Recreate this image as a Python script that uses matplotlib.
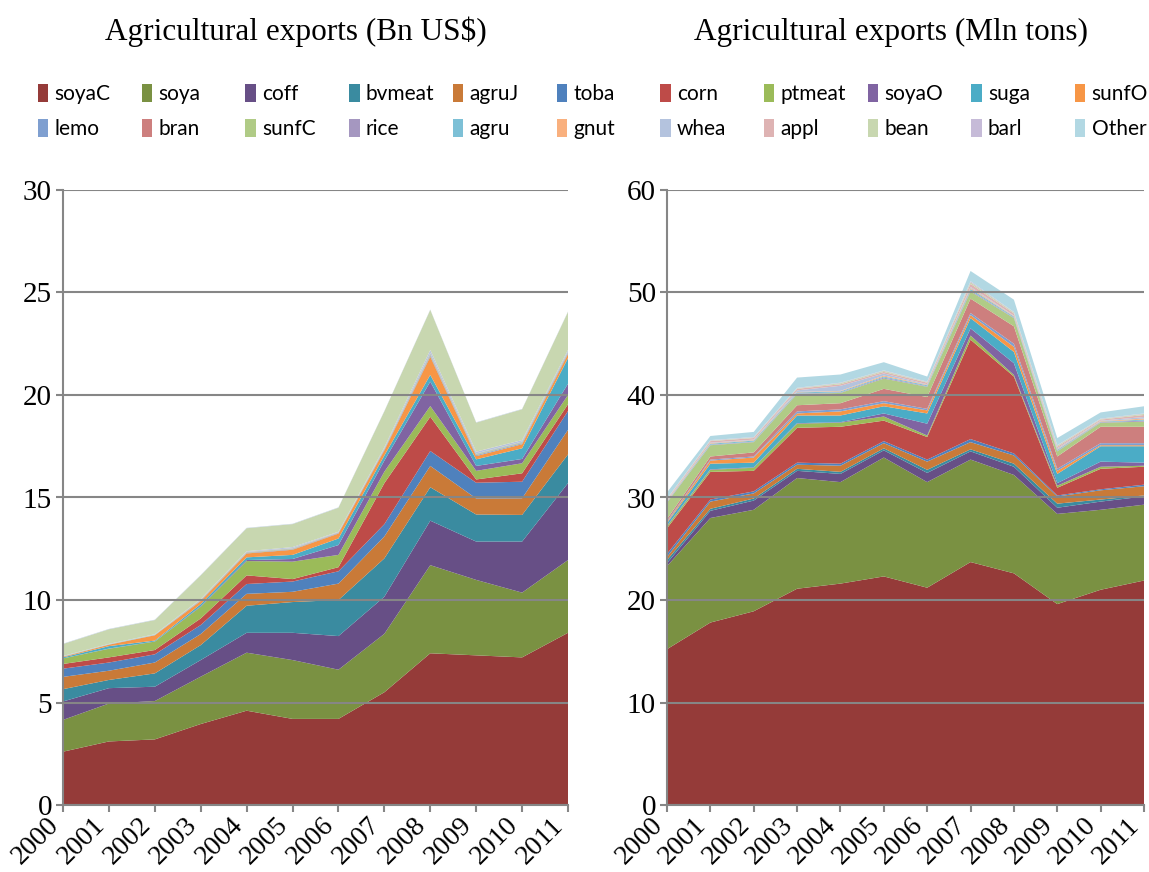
import matplotlib.pyplot as plt
from matplotlib.transforms import ScaledTranslation

years = list(range(2000, 2012))
names = ['soyaC', 'soya', 'coff', 'bvmeat', 'agruJ', 'toba', 'corn', 'ptmeat', 'soyaO', 'suga', 'sunfO',
         'lemo', 'bran', 'sunfC', 'rice', 'agru', 'gnut', 'whea', 'appl', 'bean', 'barl', 'Other']
colors = ['#953B39', '#7A9142', '#674F86', '#3A8BA0', '#C97A38', '#4F81BD', '#BE4B48', '#9BBB59',
          '#8064A2', '#4BACC6', '#F79646', '#7F9FD0', '#CD7F7E', '#B0CB86', '#A597C0', '#7DC0D6',
          '#F9B07E', '#B4C3DE', '#DEB3B3', '#C8D7B0', '#C6BBD8', '#B2D8E3']

# Agricultural exports, Bn US$
usd_soyaC = [2.6, 3.1, 3.2, 3.95, 4.6, 4.2, 4.2, 5.5, 7.4, 7.3, 7.2, 8.4]
usd_soya = [1.55, 1.85, 1.87, 2.31, 2.83, 2.87, 2.4, 2.85, 4.3, 3.68, 3.16, 3.55]
usd_coff = [0.9, 0.75, 0.7, 0.81, 0.97, 1.33, 1.64, 1.81, 2.17, 1.87, 2.49, 3.75]
usd_bvmeat = [0.6, 0.4, 0.65, 0.73, 1.32, 1.5, 1.76, 1.87, 1.63, 1.32, 1.3, 1.4]
usd_agruJ = [0.6, 0.45, 0.53, 0.54, 0.58, 0.5, 0.8, 1.07, 1.04, 0.78, 0.81, 1.2]
usd_toba = [0.4, 0.4, 0.4, 0.44, 0.48, 0.5, 0.6, 0.6, 0.73, 0.77, 0.81, 0.92]
usd_corn = [0.23, 0.25, 0.21, 0.32, 0.42, 0.12, 0.2, 2.0, 1.67, 0.16, 0.41, 0.33]
usd_ptmeat = [0.27, 0.42, 0.41, 0.57, 0.7, 0.85, 0.6, 0.56, 0.52, 0.42, 0.49, 0.45]
usd_soyaO = [0.0, 0.01, 0.01, 0.03, 0.05, 0.13, 0.48, 0.54, 1.19, 0.24, 0.21, 0.55]
usd_suga = [0.05, 0.12, 0.04, 0.1, 0.13, 0.2, 0.32, 0.25, 0.33, 0.32, 0.52, 1.25]
usd_sunfO = [0.03, 0.07, 0.26, 0.15, 0.19, 0.25, 0.24, 0.25, 0.89, 0.16, 0.2, 0.2]
usd_lemo = [0.01, 0.01, 0.01, 0.02, 0.02, 0.02, 0.02, 0.03, 0.05, 0.04, 0.04, 0.04]
usd_bran = [0.0, 0.0, 0.0, 0.01, 0.01, 0.01, 0.01, 0.01, 0.02, 0.01, 0.01, 0.01]
usd_sunfC = [0.01, 0.01, 0.01, 0.02, 0.02, 0.02, 0.01, 0.02, 0.04, 0.03, 0.03, 0.03]
usd_rice = [0.0, 0.0, 0.0, 0.01, 0.01, 0.01, 0.01, 0.01, 0.03, 0.02, 0.02, 0.02]
usd_agru = [0.0, 0.0, 0.01, 0.01, 0.01, 0.01, 0.01, 0.01, 0.03, 0.02, 0.02, 0.02]
usd_gnut = [0.0, 0.0, 0.0, 0.01, 0.01, 0.01, 0.01, 0.01, 0.02, 0.01, 0.01, 0.01]
usd_whea = [0.02, 0.02, 0.02, 0.02, 0.03, 0.05, 0.02, 0.06, 0.13, 0.08, 0.07, 0.07]
usd_appl = [0.0, 0.0, 0.0, 0.0, 0.0, 0.0, 0.0, 0.0, 0.01, 0.01, 0.0, 0.0]
usd_bean = [0.58, 0.71, 0.69, 1.15, 1.12, 1.12, 1.17, 1.75, 1.95, 1.41, 1.5, 1.85]
usd_barl = [0.01, 0.01, 0.01, 0.01, 0.01, 0.01, 0.01, 0.01, 0.01, 0.01, 0.01, 0.01]
usd_Other = [0.01, 0.01, 0.01, 0.01, 0.01, 0.01, 0.01, 0.01, 0.01, 0.01, 0.01, 0.01]

# Agricultural exports, Mln tons
ton_soyaC = [15.2, 17.8, 18.9, 21.1, 21.6, 22.3, 21.2, 23.7, 22.6, 19.6, 21.0, 21.9]
ton_soya = [8.1, 10.2, 9.9, 10.8, 9.9, 11.6, 10.3, 10.0, 9.6, 8.8, 7.8, 7.4]
ton_coff = [0.3, 0.7, 0.9, 0.7, 0.8, 0.7, 0.9, 0.8, 0.8, 0.6, 0.8, 0.8]
ton_bvmeat = [0.3, 0.2, 0.2, 0.2, 0.2, 0.2, 0.3, 0.2, 0.3, 0.4, 0.2, 0.1]
ton_agruJ = [0.3, 0.7, 0.5, 0.4, 0.6, 0.5, 0.8, 0.7, 0.8, 0.7, 0.9, 0.9]
ton_toba = [0.3, 0.2, 0.2, 0.2, 0.2, 0.2, 0.2, 0.3, 0.2, 0.1, 0.1, 0.15]
ton_corn = [2.5, 2.7, 2.0, 3.4, 3.6, 2.0, 2.2, 9.7, 7.5, 0.75, 2.0, 1.75]
ton_ptmeat = [0.2, 0.2, 0.3, 0.4, 0.4, 0.4, 0.15, 0.4, 0.15, 0.2, 0.2, 0.1]
ton_soyaO = [0.05, 0.05, 0.05, 0.05, 0.05, 0.3, 1.15, 0.7, 1.15, 0.25, 0.5, 0.3]
ton_suga = [0.25, 0.55, 0.45, 0.75, 0.65, 0.7, 1.0, 1.0, 1.1, 0.9, 1.5, 1.6]
ton_sunfO = [0.1, 0.3, 0.5, 0.2, 0.4, 0.3, 0.3, 0.3, 0.5, 0.3, 0.1, 0.1]
ton_lemo = [0.1, 0.1, 0.1, 0.2, 0.2, 0.2, 0.15, 0.2, 0.3, 0.2, 0.2, 0.2]
ton_bran = [0.2, 0.3, 0.4, 0.6, 0.6, 1.2, 1.15, 1.4, 1.7, 1.2, 1.6, 1.6]
ton_sunfC = [1.6, 1.1, 1.0, 1.1, 1.0, 1.0, 1.0, 0.7, 0.8, 0.5, 0.4, 0.5]
ton_rice = [0.05, 0.05, 0.05, 0.05, 0.05, 0.1, 0.05, 0.1, 0.05, 0.05, 0.05, 0.1]
ton_agru = [0.05, 0.1, 0.1, 0.1, 0.1, 0.1, 0.1, 0.15, 0.1, 0.1, 0.05, 0.1]
ton_gnut = [0.05, 0.05, 0.05, 0.05, 0.05, 0.1, 0.05, 0.1, 0.05, 0.05, 0.05, 0.1]
ton_whea = [0.05, 0.05, 0.05, 0.15, 0.5, 0.2, 0.05, 0.1, 0.05, 0.1, 0.05, 0.15]
ton_appl = [0.1, 0.15, 0.15, 0.15, 0.15, 0.15, 0.15, 0.3, 0.2, 0.15, 0.1, 0.2]
ton_bean = [0.05, 0.05, 0.05, 0.05, 0.1, 0.1, 0.05, 0.15, 0.1, 0.1, 0.05, 0.1]
ton_barl = [0.05, 0.05, 0.05, 0.05, 0.05, 0.05, 0.05, 0.1, 0.05, 0.05, 0.05, 0.05]
ton_Other = [0.6, 0.4, 0.5, 1.0, 0.8, 0.8, 0.5, 1.0, 1.2, 0.7, 0.6, 0.7]

usd = [usd_soyaC, usd_soya, usd_coff, usd_bvmeat, usd_agruJ, usd_toba, usd_corn, usd_ptmeat,
       usd_soyaO, usd_suga, usd_sunfO, usd_lemo, usd_bran, usd_sunfC, usd_rice, usd_agru,
       usd_gnut, usd_whea, usd_appl, usd_bean, usd_barl, usd_Other]
ton = [ton_soyaC, ton_soya, ton_coff, ton_bvmeat, ton_agruJ, ton_toba, ton_corn, ton_ptmeat,
       ton_soyaO, ton_suga, ton_sunfO, ton_lemo, ton_bran, ton_sunfC, ton_rice, ton_agru,
       ton_gnut, ton_whea, ton_appl, ton_bean, ton_barl, ton_Other]

serif = ['Liberation Serif', 'DejaVu Serif']
sans = ['Lato', 'Liberation Sans', 'DejaVu Sans']
grey = '#868686'

fig = plt.figure(figsize=(11.49, 8.72), dpi=100)
ax1 = fig.add_axes([63 / 1149, 67 / 872, 505 / 1149, 615 / 872])
ax2 = fig.add_axes([667 / 1149, 67 / 872, 477 / 1149, 615 / 872])

# nudge rotated year labels a little to the left so the last one stays inside
shift = ScaledTranslation(-8 / 100, 0, fig.dpi_scale_trans)

polys = None
for ax, data, ymax, step in [(ax1, usd, 30, 5), (ax2, ton, 60, 10)]:
    p = ax.stackplot(years, data, colors=colors, linewidth=0)
    if polys is None:
        polys = p
    ax.set_xlim(2000, 2011)
    ax.set_ylim(0, ymax)
    ax.set_yticks(range(0, ymax + 1, step))
    ax.set_xticks(years)
    ax.grid(axis='y', color=grey, linewidth=1.5)
    ax.set_axisbelow(False)
    for s in ['top', 'right']:
        ax.spines[s].set_visible(False)
    for s in ['left', 'bottom']:
        ax.spines[s].set_color(grey)
        ax.spines[s].set_linewidth(1.5)
    ax.tick_params(axis='both', color=grey, width=1.5, length=5)
    ax.tick_params(axis='y', pad=3)
    ax.tick_params(axis='x', pad=7)
    ax.set_xticklabels([str(y) for y in years], rotation=45, ha='right', va='center',
                       rotation_mode='anchor', family=serif, fontsize=20)
    for lab in ax.get_xticklabels():
        lab.set_transform(lab.get_transform() + shift)
    for lab in ax.get_yticklabels():
        lab.set_family(serif)
        lab.set_fontsize(21)

fig.text(296 / 1149, 1 - 32 / 872, 'Agricultural exports (Bn US$)', ha='center', va='center',
         family=serif, fontsize=22.5)
fig.text(891 / 1149, 1 - 32 / 872, 'Agricultural exports (Mln tons)', ha='center', va='center',
         family=serif, fontsize=22.5)

# legend laid out like the original: 11 equal columns, 2 rows
for i, name in enumerate(names):
    col, row = i % 11, i // 11
    x = (38 + 103.7 * col) / 1149
    y = 1 - (94 + 35 * row) / 872
    fig.legend([polys[i]], [name], loc='center left', bbox_to_anchor=(x, y), frameon=False,
               prop={'family': sans, 'size': 15}, handlelength=0.5, handleheight=0.95,
               handletextpad=0.3, borderpad=0, borderaxespad=0)

plt.savefig('out.png', dpi=100)
